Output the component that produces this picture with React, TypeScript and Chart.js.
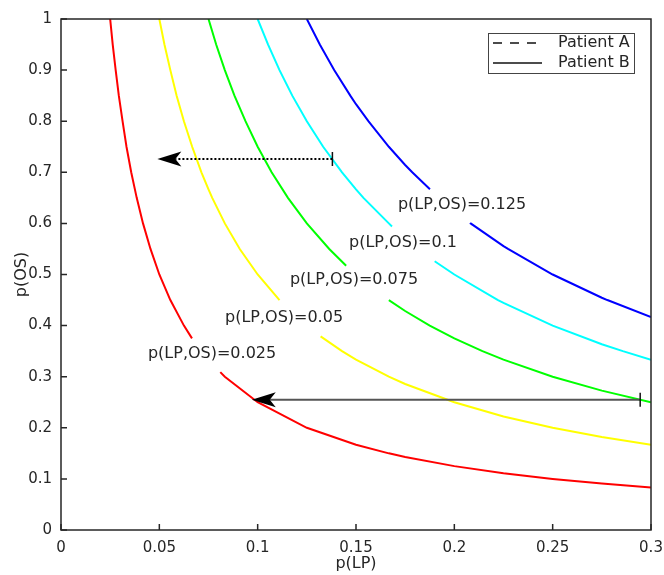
import React, { useEffect, useRef } from "react";
import { Chart, registerables } from "chart.js";

Chart.register(...registerables);

// ---- data (x = p(LP), y = p(OS)); null marks a label gap ----
const curve025: ([number, number] | null)[] = [
  [0.025, 1], [0.0263, 0.95], [0.0278, 0.9], [0.0294, 0.85], [0.0313, 0.8], [0.0333, 0.75],
  [0.0357, 0.7], [0.0385, 0.65], [0.0417, 0.6], [0.0455, 0.55], [0.05, 0.5], [0.0556, 0.45],
  [0.0625, 0.4], [0.0666, 0.375], null, [0.081, 0.309], [0.0833, 0.3], [0.1, 0.25], [0.125, 0.2],
  [0.15, 0.1667], [0.1667, 0.15], [0.175, 0.1429], [0.2, 0.125], [0.225, 0.1111], [0.25, 0.1],
  [0.275, 0.0909], [0.3, 0.0833],
];
const curve050: ([number, number] | null)[] = [
  [0.05, 1], [0.0526, 0.95], [0.0556, 0.9], [0.0588, 0.85], [0.0625, 0.8], [0.0667, 0.75],
  [0.0714, 0.7], [0.075, 0.6667], [0.0769, 0.65], [0.0833, 0.6], [0.0909, 0.55], [0.1, 0.5],
  [0.1111, 0.45], null, [0.132, 0.379], [0.1429, 0.35], [0.15, 0.3333], [0.1667, 0.3],
  [0.175, 0.2857], [0.2, 0.25], [0.225, 0.2222], [0.25, 0.2], [0.275, 0.1818], [0.3, 0.1667],
];
const curve075: ([number, number] | null)[] = [
  [0.075, 1], [0.0789, 0.95], [0.0833, 0.9], [0.0882, 0.85], [0.0938, 0.8], [0.1, 0.75],
  [0.1071, 0.7], [0.1154, 0.65], [0.125, 0.6], [0.1364, 0.55], [0.145, 0.517], null,
  [0.1667, 0.45], [0.175, 0.4286], [0.1875, 0.4], [0.2, 0.375], [0.2143, 0.35], [0.225, 0.3333],
  [0.25, 0.3], [0.275, 0.2727], [0.3, 0.25],
];
const curve100: ([number, number] | null)[] = [
  [0.1, 1], [0.1053, 0.95], [0.1111, 0.9], [0.1176, 0.85], [0.125, 0.8], [0.1333, 0.75],
  [0.1429, 0.7], [0.15, 0.6667], [0.1538, 0.65], [0.1667, 0.6], [0.1683, 0.594], null,
  [0.19, 0.526], [0.2, 0.5], [0.2222, 0.45], [0.225, 0.4444], [0.25, 0.4], [0.275, 0.3636],
  [0.2857, 0.35], [0.3, 0.3333],
];
const curve125: ([number, number] | null)[] = [
  [0.125, 1], [0.1316, 0.95], [0.1389, 0.9], [0.1471, 0.85], [0.15, 0.8333], [0.1563, 0.8],
  [0.1667, 0.75], [0.175, 0.7143], [0.1786, 0.7], [0.1876, 0.667], null, [0.208, 0.601],
  [0.2083, 0.6], [0.225, 0.5556], [0.2273, 0.55], [0.25, 0.5], [0.275, 0.4545], [0.2778, 0.45],
  [0.3, 0.4167],
];
const curveColors = ["#ff0000", "#ffff00", "#00ff00", "#00ffff", "#0000ff"];

const labelTexts = ["p(LP,OS)=0.025", "p(LP,OS)=0.05", "p(LP,OS)=0.075", "p(LP,OS)=0.1", "p(LP,OS)=0.125"];
const labelX = [0.0768, 0.1134, 0.149, 0.1739, 0.2039];
const labelY = [0.344, 0.415, 0.489, 0.5616, 0.636];

// arrows: [fromX, toX, y]
const patientA = [0.138, 0.049, 0.726];
const patientB = [0.2945, 0.097, 0.255];
const legendNames = ["Patient A", "Patient B"];

const AXIS = "#262626";
const FONT = "'DejaVu Sans', Verdana, sans-serif";

const toPoints = (arr: ([number, number] | null)[]) =>
  arr.map((p, i) => (p ? { x: p[0], y: p[1] } : { x: (arr[i - 1] as number[])[0], y: null }));

const fmt = (v: any) => String(Number(Number(v).toFixed(4)));

const overlay = {
  id: "overlay",
  afterDraw(chart: any) {
    const { ctx, chartArea: a, scales } = chart;
    const xs = scales.x, ys = scales.y;
    ctx.save();
    // contour labels
    ctx.fillStyle = AXIS;
    ctx.font = `16px ${FONT}`;
    ctx.textAlign = "center";
    ctx.textBaseline = "middle";
    labelTexts.forEach((t, i) => ctx.fillText(t, xs.getPixelForValue(labelX[i]), ys.getPixelForValue(labelY[i])));

    // arrows
    const drawArrow = (arr: number[], color: string, dash: number[]) => {
      const x0 = xs.getPixelForValue(arr[0]);
      const x1 = xs.getPixelForValue(arr[1]);
      const y = ys.getPixelForValue(arr[2]);
      ctx.strokeStyle = color;
      ctx.lineWidth = 2;
      ctx.setLineDash(dash);
      ctx.beginPath();
      ctx.moveTo(x0, y);
      ctx.lineTo(x1 + 18, y);
      ctx.stroke();
      ctx.setLineDash([]);
      ctx.strokeStyle = "#111";
      ctx.lineWidth = 1.5;
      ctx.beginPath();
      ctx.moveTo(x0, y - 7);
      ctx.lineTo(x0, y + 7);
      ctx.stroke();
      ctx.fillStyle = "#000";
      ctx.beginPath();
      ctx.moveTo(x1, y);
      ctx.lineTo(x1 + 24, y - 7.5);
      ctx.lineTo(x1 + 18, y);
      ctx.lineTo(x1 + 24, y + 7.5);
      ctx.closePath();
      ctx.fill();
    };
    drawArrow(patientA, "#000", [2, 2]);
    drawArrow(patientB, "#555", []);

    // axes box
    ctx.strokeStyle = AXIS;
    ctx.lineWidth = 1.5;
    ctx.strokeRect(a.left, a.top, a.right - a.left, a.bottom - a.top);
    // inward ticks
    ctx.beginPath();
    xs.ticks.forEach((t: any) => {
      const px = xs.getPixelForValue(t.value);
      ctx.moveTo(px, a.bottom);
      ctx.lineTo(px, a.bottom - 6);
    });
    ys.ticks.forEach((t: any) => {
      const py = ys.getPixelForValue(t.value);
      ctx.moveTo(a.left, py);
      ctx.lineTo(a.left + 6, py);
    });
    ctx.stroke();

    // legend
    const lx = 488, ly = 33, lw = 146, lh = 40;
    ctx.fillStyle = "#fff";
    ctx.fillRect(lx, ly, lw, lh);
    ctx.strokeStyle = "#444";
    ctx.lineWidth = 1;
    ctx.strokeRect(lx + 0.5, ly + 0.5, lw, lh);
    ctx.strokeStyle = "#111";
    ctx.lineWidth = 1.5;
    ctx.setLineDash([9, 8]);
    ctx.beginPath();
    ctx.moveTo(493, 43);
    ctx.lineTo(542, 43);
    ctx.stroke();
    ctx.setLineDash([]);
    ctx.beginPath();
    ctx.moveTo(493, 63);
    ctx.lineTo(542, 63);
    ctx.stroke();
    ctx.fillStyle = AXIS;
    ctx.font = `16px ${FONT}`;
    ctx.textAlign = "left";
    ctx.textBaseline = "middle";
    ctx.fillText(legendNames[0], 558, 43);
    ctx.fillText(legendNames[1], 558, 63);
    ctx.restore();
  },
};

export default function App() {
  const ref = useRef<HTMLCanvasElement>(null);
  useEffect(() => {
    document.body.style.margin = "0";
    const curves = [curve025, curve050, curve075, curve100, curve125];
    const chart = new Chart(ref.current as HTMLCanvasElement, {
      type: "line",
      data: {
        datasets: curves.map((c, i) => ({
          data: toPoints(c) as any,
          borderColor: curveColors[i],
          borderWidth: 2,
          pointRadius: 0,
          spanGaps: false,
          tension: 0,
          fill: false,
        })),
      },
      options: {
        animation: false,
        responsive: true,
        maintainAspectRatio: false,
        layout: { padding: { left: 0, top: 19, right: 13, bottom: 0 } },
        plugins: { legend: { display: false }, tooltip: { enabled: false } },
        scales: {
          x: {
            type: "linear",
            min: 0,
            max: 0.3,
            grid: { display: false, drawTicks: false },
            border: { display: false },
            ticks: { stepSize: 0.05, color: AXIS, font: { family: FONT, size: 15 }, padding: 9, maxRotation: 0, callback: fmt },
            title: { display: true, text: "p(LP)", color: AXIS, font: { family: FONT, size: 16 }, padding: { bottom: 2 } },
            afterFit: (s: any) => { s.height = 45; s.paddingLeft = 0; s.paddingRight = 0; },
          },
          y: {
            type: "linear",
            min: 0,
            max: 1,
            grid: { display: false, drawTicks: false },
            border: { display: false },
            ticks: { stepSize: 0.1, color: AXIS, font: { family: FONT, size: 15 }, padding: 9, callback: fmt },
            title: { display: true, text: "p(OS)", color: AXIS, font: { family: FONT, size: 16 }, padding: { top: 12 } },
            afterFit: (s: any) => { s.width = 61; s.paddingTop = 0; s.paddingBottom = 0; },
          },
        },
      },
      plugins: [overlay],
    });
    return () => chart.destroy();
  }, []);
  return (
    <div style={{ position: "absolute", left: 0, top: 0, width: 664, height: 575 }}>
      <canvas ref={ref} />
    </div>
  );
}
